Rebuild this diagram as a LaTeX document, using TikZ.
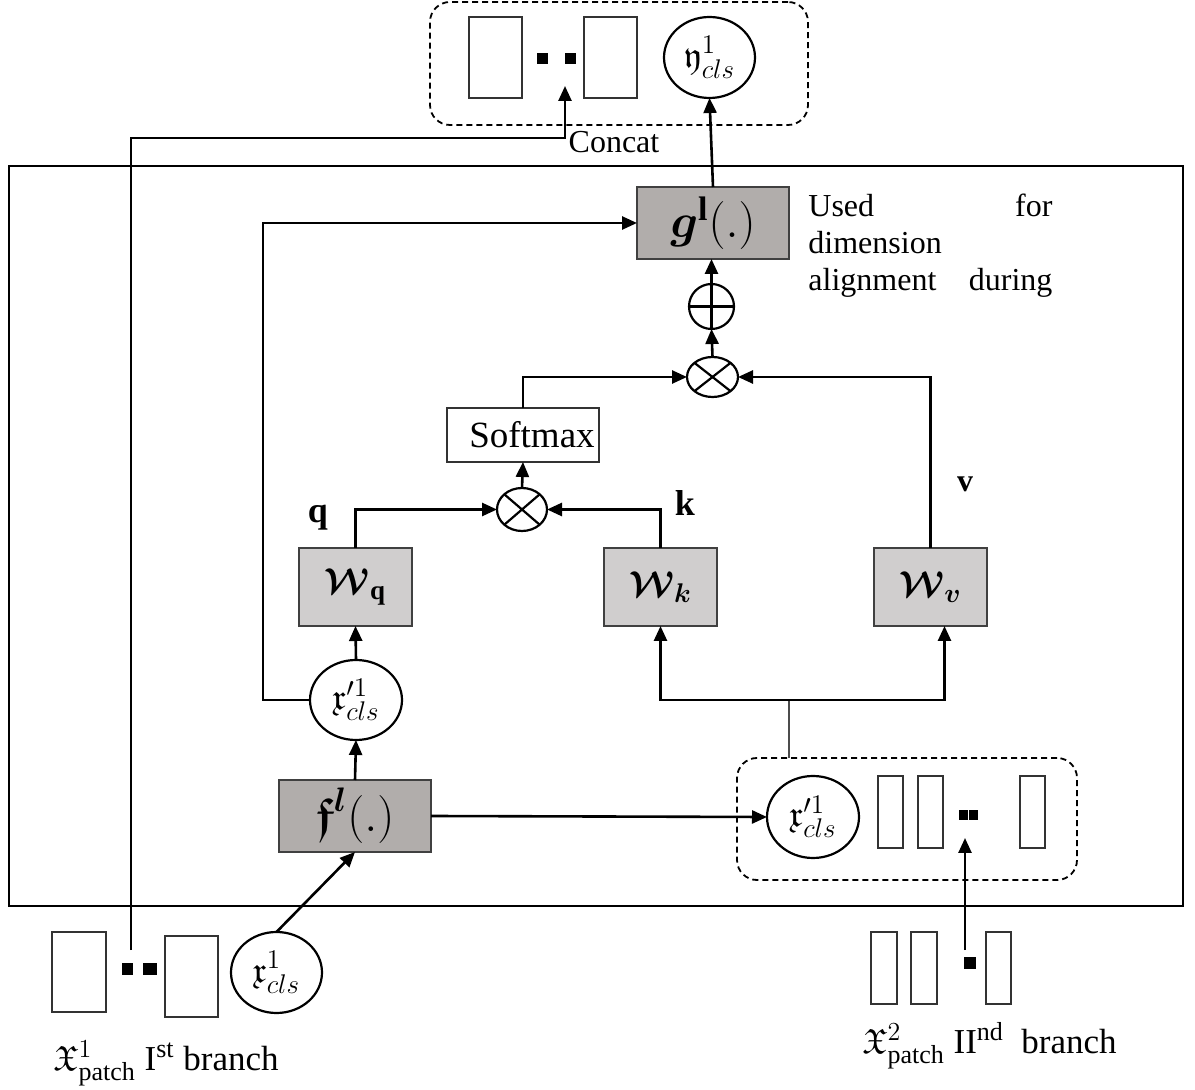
\RequirePackage{fix-cm}
\documentclass[tikz,border=0pt]{standalone}
\usepackage{amsmath,amssymb,mathrsfs,bm}
\usepackage{fontspec}
\setmainfont{Liberation Serif}
\usetikzlibrary{arrows.meta,shapes.geometric}
\DeclareMathSizes{16}{16}{12.5}{10}
\DeclareMathSizes{17.5}{17.5}{13}{10}
\DeclareMathSizes{18}{18}{13.5}{10}
\DeclareMathSizes{24}{24}{17}{12}
\definecolor{boxdark}{HTML}{B1ADAB}
\definecolor{boxlight}{HTML}{D0CECE}
\newcommand\fsz[1]{\fontsize{#1}{#1}\selectfont}
\tikzset{
  sz/.style 2 args={minimum width=#1*0.5pt, minimum height=#2*0.5pt},
  base/.style={inner sep=0pt, outer sep=0pt},
  rectb/.style={base, rectangle, draw=black!80, line width=0.8pt},
  darkbox/.style={base, rectangle, draw=black!75, fill=boxdark, line width=0.7pt},
  lightbox/.style={base, rectangle, draw=black!75, fill=boxlight, line width=0.7pt},
  ell/.style={base, ellipse, draw, line width=1.1pt, fill=white},
  blk/.style={base, rectangle, fill=black},
  dbox/.style={base, rectangle, draw, dash pattern=on 3pt off 2pt, line width=0.9pt, rounded corners=10pt},
  arr/.style={line width=1.3pt, -{Triangle[length=7.5pt,width=6.5pt]}},
  ln/.style={line width=1.3pt},
}
\begin{document}
\begin{tikzpicture}[x=0.5pt,y=-0.5pt]
\useasboundingbox (0,0) rectangle (1195,1090);
% main frame
\node[base, draw, line width=1.3pt, sz={1174}{740}] (frame) at (596,536) {};
% top group
\node[dbox, sz={378}{123}] (topbox) at (619,63.5) {};
\node[rectb, sz={53}{81}] (tr1) at (495.5,57.5) {};
\node[blk, sz={11}{11}] (td1) at (542.5,58.5) {};
\node[blk, sz={11}{11}] (td2) at (570,58.5) {};
\node[rectb, sz={53}{81}] (tr2) at (610.5,57.5) {};
\node[ell, sz={91}{81}, font=\fsz{18}] (ycls) at (709.5,57.5) {$\mathfrak{y}^{1}_{cls}$};
\node[base, font=\fsz{16}] (concat) at (614,142) {Concat};
% g block and note
\node[darkbox, sz={152}{72}, font=\fsz{24}] (g) at (713,223) {$\bm{g}^{\mathbf{l}}(.)$};
\node[anchor=north west, inner sep=0pt, text width=122pt, align=left, font=\fontsize{16}{18.5}\selectfont] (note) at (808,194) {Used\hfill for\\dimension\\alignment\hfill during};
% oplus
\node[base, circle, draw, line width=1.1pt, minimum size=45*0.5pt] (op) at (711.5,306.5) {};
\draw[line width=1.1pt] (op.north) -- (op.south) (op.west) -- (op.east);
% otimes top
\node[ell, sz={51}{40}] (ot1) at (712.5,377) {};
\draw[line width=1.1pt] (ot1.north east) -- (ot1.south west) (ot1.north west) -- (ot1.south east);
% softmax
\node[rectb, sz={152}{54}, line width=0.7pt, font=\fsz{18.5}] (soft) at (523,435) {\hspace{9pt}Softmax};
% otimes bottom
\node[ell, sz={50}{43}] (ot2) at (522,509.5) {};
\draw[line width=1.1pt] (ot2.north east) -- (ot2.south west) (ot2.north west) -- (ot2.south east);
% W blocks
\node[lightbox, sz={113}{78}, font=\fsz{18}] (wq) at (355.5,587) {$\bm{\mathcal{W}}_{\mathbf{q}}$};
\node[lightbox, sz={113}{78}, font=\fsz{18}] (wk) at (660.5,587) {$\bm{\mathcal{W}}_{\bm{k}}$};
\node[lightbox, sz={113}{78}, font=\fsz{18}] (wv) at (930.5,587) {$\bm{\mathcal{W}}_{\bm{v}}$};
\node[base, font=\fsz{18}\bfseries] (ql) at (318,518) {q};
\node[base, font=\fsz{18}\bfseries] (kl) at (685,503) {k};
\node[base, font=\fsz{16}\bfseries] (vl) at (965,484) {v};
% x' and f
\node[ell, sz={92}{80}, font=\fsz{18}] (xp) at (356,700) {$\mathfrak{x}'^{1}_{cls}$};
\node[darkbox, sz={152}{72}, font=\fsz{24}] (f) at (355,816) {$\bm{\mathfrak{f}}^{\bm{l}}(.)$};
% bottom dashed group
\node[dbox, sz={340}{122}] (bbox) at (907,819) {};
\node[ell, sz={92}{82}, font=\fsz{18}] (xpd) at (813,817) {$\mathfrak{x}'^{1}_{cls}$};
\node[rectb, sz={25}{72}] (b1) at (890.5,812) {};
\node[rectb, sz={25}{72}] (b2) at (930.5,812) {};
\node[blk, sz={9}{10}] (bd1) at (963,815) {};
\node[blk, sz={9}{10}] (bd2) at (973,815) {};
\node[rectb, sz={25}{72}] (b3) at (1032.5,812) {};
% bottom left group
\node[rectb, sz={54}{80}] (p1) at (79,972) {};
\node[blk, sz={11}{12}] (pd1) at (127.5,969) {};
\node[blk, sz={14}{12}] (pd2) at (150,969) {};
\node[rectb, sz={53}{81}] (p2) at (191.5,976.5) {};
\node[ell, sz={91}{81}, font=\fsz{18}] (xc) at (276.5,972.5) {$\mathfrak{x}^{1}_{cls}$};
\node[anchor=base west, inner sep=0pt, font=\fsz{17.5}] (lab1) at (53,1070) {$\mathfrak{X}^{1}_{\mathrm{patch}}$ I\textsuperscript{st} branch};
% bottom right group
\node[rectb, sz={26}{72}] (q1) at (884,968) {};
\node[rectb, sz={26}{72}] (q2) at (924,968) {};
\node[blk, sz={12}{12}] (qd) at (970,963) {};
\node[rectb, sz={25}{72}] (q3) at (998.5,968) {};
\node[anchor=base west, inner sep=0pt, font=\fsz{17.5}] (lab2) at (862,1053) {$\mathfrak{X}^{2}_{\mathrm{patch}}$ II\textsuperscript{nd}\ \ branch};
% connectors
\coordinate (c1) at (131,950);
\coordinate (c2) at (565,86);
\draw[arr] (c1) -- (131,138) -| (c2);
\draw[arr] (g.north) -- (ycls.south);
\draw[arr] (op.north) -- (op.north |- g.south);
\draw[arr] (ot1.north) -- (op.south);
\draw[arr] (soft.north) |- (ot1.west);
\draw[arr] (wv.north) |- (ot1.east);
\draw[arr] (ot2.north) -- (soft.south);
\draw[arr] (wq.north) |- (ot2.west);
\draw[arr] (wk.north) |- (ot2.east);
\draw[arr] (xp.north) -- (wq.south);
\draw[arr] (xp.west) -- ++(-47,0) |- (g.west);
\draw[arr] (f.north) -- (xp.south);
\draw[arr] (f.east) -- (xpd.west);
\draw[arr] (xc.north) -- (f.south);
\coordinate (sp) at (789,700);
\draw[line width=0.8pt, black!70] (bbox.north -| sp) -- (sp);
\draw[arr] (sp) -| (wk.south);
\draw[arr] (sp) -| ([xshift=7pt]wv.south);
\coordinate (c3) at (965,950);
\coordinate (c4) at (965,838);
\draw[arr] (c3) -- (c4);
\end{tikzpicture}
\end{document}
